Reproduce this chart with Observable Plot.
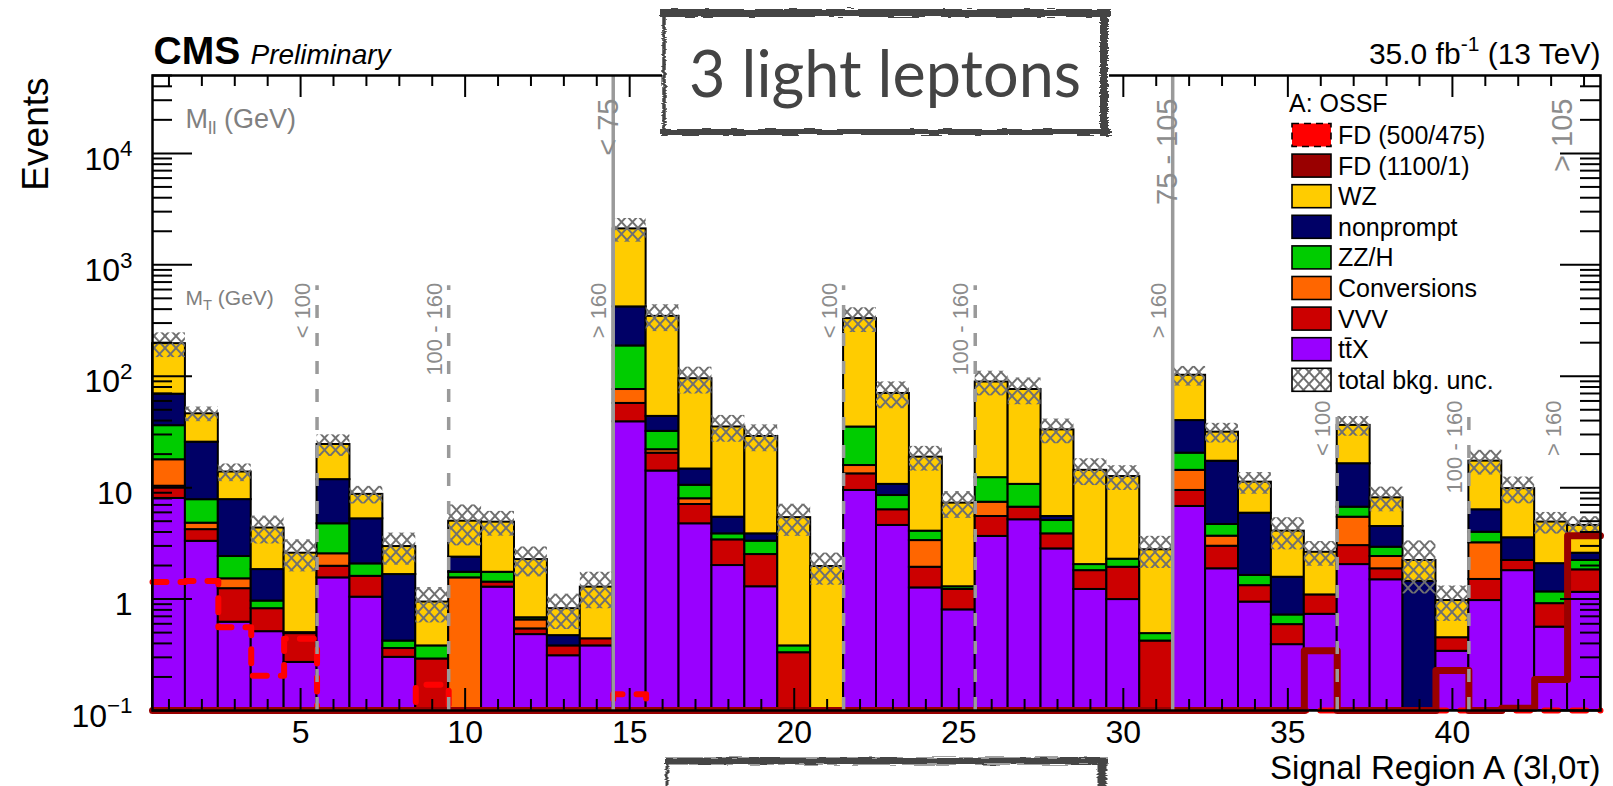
<!DOCTYPE html>
<html><head><meta charset="utf-8">
<script src="https://cdn.jsdelivr.net/npm/d3@7"></script>
<script src="https://cdn.jsdelivr.net/npm/@observablehq/plot@0.6"></script>
<style>
html,body{margin:0;padding:0;background:#fff;}
#chart svg{display:block;}
</style></head><body><div id="chart"></div>
<script>
// ---------------- data ----------------
const bins = [1,2,3,4,5,6,7,8,9,10,11,12,13,14,15,16,17,18,19,20,21,22,23,24,25,26,27,28,29,30,31,32,33,34,35,36,37,38,39,40,41,42,43,44];
// stacked backgrounds (bottom -> top)
const ttX       = [8.0,3.3,0.62,0.51,0.27,1.55,1.04,0.30,0,0,1.28,0.48,0.31,0.38,39,14.1,4.74,2.0,1.29,0,0,9.44,4.58,1.26,0.80,3.65,5.15,2.82,1.22,0.99,0,6.78,1.87,0.94,0.39,0.73,2.04,1.49,0,0.34,0.97,1.80,0.56,1.15];
const VVV       = [2.3,0.9,0.62,0.31,0.22,0.42,0.56,0.06,0.29,0,0.14,0.06,0.07,0.06,18,6.3,2.32,1.4,1.22,0.33,0,3.86,1.75,0.67,0.42,1.86,1.53,1.03,0.58,0.94,0.42,2.66,1.11,0.38,0.20,0.36,0.98,0.38,0,0.11,0.53,0.42,0.35,0.68];
const conversions = [7.5,0.6,0.28,0,0,0.58,0,0,0,1.55,0,0.11,0,0,19,1.5,0.89,0,0,0,0,2.5,0,1.42,0,1.89,0,0,0,0,0,4.86,0.69,0,0,0,2.41,0.54,0,0,1.7,0,0,0];
const ZZH       = [18.2,3.0,0.89,0.14,0,2.19,0.47,0.06,0.09,0.19,0.32,0.03,0,0,111,10.1,2.55,0.45,0.8,0.05,0,19.2,2.17,0.72,0.07,4.9,4.02,1.22,0.24,0.35,0.07,6.1,1.0,0.31,0.13,0,1.25,0.51,0,0,0.78,0,0.25,0.39];
const nonprompt = [33,17.8,5.4,0.88,0.01,7.06,3.18,1.24,0,0.64,0,0,0.09,0,232,11.6,4.2,1.58,0.54,0,0,0,2.2,0,0,0,0,0.44,0,0,0,19.6,12.6,4.27,0.85,0,9.72,1.56,1.44,0,2.35,1.33,0.92,0.36];
const WZ        = [127,20.4,6.0,2.5,2.08,12.6,3.45,1.30,0.56,2.62,3.16,1.58,0.35,0.84,1681,301,80.3,29.6,24.95,5.0,1.96,294,59.3,14.7,5.97,76.4,65.3,27.5,12.26,10.3,2.28,62,14.2,5.3,2.5,1.54,19.8,3.62,0.78,0.52,10.97,6.25,2.83,2.0];
// relative total background uncertainty
const unc = [0.25,0.15,0.18,0.28,0.32,0.22,0.18,0.32,0.35,0.40,0.25,0.30,0.35,0.36,0.24,0.27,0.27,0.27,0.27,0.32,0.32,0.25,0.27,0.25,0.27,0.25,0.27,0.25,0.27,0.25,0.32,0.20,0.20,0.22,0.32,0.25,0.20,0.25,0.50,0.35,0.25,0.27,0.22,0.20];
// signals (0 = below axis minimum)
const sigFD500 = [1.42,1.45,0.56,0.205,0.44,0,0,0,0.17,0,0,0,0,0,0.14,0,0,0,0,0,0,0,0,0,0,0,0,0,0,0,0,0,0,0,0,0,0,0,0,0,0,0,0,0];
const sigFD1100 = [0,0,0,0,0,0,0,0,0,0,0,0,0,0,0,0,0,0,0,0,0,0,0,0,0,0,0,0,0,0,0,0,0,0,0,0.344,0,0,0,0.228,0,0.105,0.19,3.7];

const seriesNames  = ["ttX","VVV","Conversions","ZZ/H","nonprompt","WZ"];
const seriesLabels = ["tt\u0304X","VVV","Conversions","ZZ/H","nonprompt","WZ"];
const seriesColors = ["#9900ff","#cc0000","#ff6600","#00cc00","#000066","#ffcc00"];
const sigNames  = ["FD (500/475)","FD (1100/1)"];
const sigColors = ["#ff0000","#990000"];

const xMajorTicks = [5,10,15,20,25,30,35,40];
const yMajorTicks = [0.1,1,10,100,1000,10000];
const yTickLabels = ["10^{\u22121}","1","10","10^{2}","10^{3}","10^{4}"];

const mllLines = [14.5,31.5];
const mllLabels = ["< 75","75 - 105","> 105"];
const mllLabelX = [14.5,31.5,43.5];
const mtLines = [5.5,9.5,21.5,25.5,36.5,40.5];
const mtLineTop = [650,650,650,650,57,57];
const mtLabels = ["< 100","100 - 160","> 160","< 100","100 - 160","> 160","< 100","100 - 160","> 160"];
const mtLabelX = [5.5,9.5,14.5,21.5,25.5,31.5,36.5,40.5,43.5];
const mtLabelTop = [650,650,650,650,650,650,57,57,57];

// ---------------- build ----------------
const W = 1613, H = 786, mL = 152, mR = 13, mT = 75, mB = 76;
const fw = W - mL - mR, fh = H - mT - mB;
const yMin = 0.1, yMax = 5e4;

const stack = [ttX, VVV, conversions, ZZH, nonprompt, WZ];
const segments = [], totals = [];
bins.forEach((b, i) => {
  let cum = 0;
  stack.forEach((arr, k) => {
    const v = arr[i];
    if (v > 0) segments.push({bin: b, series: seriesNames[k], y1: cum, y2: cum + v});
    cum += v;
  });
  totals.push({bin: b, lo: cum * (1 - unc[i]), hi: cum * (1 + unc[i])});
});
const segs = segments.filter(d => d.y2 > yMin);

function steps(vals) {
  const pts = bins.map((b, i) => ({x: b - 0.5, y: Math.max(vals[i], yMin)}));
  pts.push({x: bins[bins.length - 1] + 0.5, y: Math.max(vals[vals.length - 1], yMin)});
  return pts;
}

const yAll = d3.scaleLog().domain([yMin, yMax]).ticks();
const yMinor = yAll.filter(v => Math.abs(Math.log10(v) - Math.round(Math.log10(v))) > 1e-6 && v <= yMax);
const xMinor = bins.filter(b => !xMajorTicks.includes(b));

const mtLineData = mtLines.map((x, i) => ({x, top: mtLineTop[i]}));
const mtLabelData = mtLabels.map((t, i) => ({t, x: mtLabelX[i], top: mtLabelTop[i]}));
const mllLabelData = mllLabels.map((t, i) => ({t, x: mllLabelX[i]}));

const gray = "#9a9a9a";
const plot = Plot.plot({
  width: W, height: H,
  marginLeft: mL, marginRight: mR, marginTop: mT, marginBottom: mB,
  style: {fontFamily: "'Liberation Sans', Arial, Helvetica, sans-serif", background: "white", overflow: "visible"},
  x: {domain: [0.5, 44.5]},
  y: {type: "log", domain: [yMin, yMax], clamp: true},
  color: {domain: seriesNames, range: seriesColors},
  marks: [
    Plot.rect(segs, {x1: d => d.bin - 0.5, x2: d => d.bin + 0.5, y1: d => Math.max(d.y1, yMin), y2: "y2", fill: "series", stroke: "black", strokeWidth: 2}),
    Plot.rect(totals, {x1: d => d.bin - 0.5, x2: d => d.bin + 0.5, y1: "lo", y2: "hi", fill: "url(#hatch)"}),
    Plot.line(steps(sigFD500), {x: "x", y: "y", curve: "step-after", stroke: sigColors[0], strokeWidth: 6, strokeDasharray: "14,14"}),
    Plot.line(steps(sigFD1100), {x: "x", y: "y", curve: "step-after", stroke: sigColors[1], strokeWidth: 7}),
    Plot.ruleX(mtLineData, {x: "x", y1: yMin, y2: "top", stroke: gray, strokeWidth: 3.5, strokeDasharray: "13,15"}),
    Plot.ruleX(mllLines, {stroke: gray, strokeWidth: 3.5}),
    Plot.text(mllLabelData, {x: "x", text: "t", frameAnchor: "top", rotate: -90, textAnchor: "end", dx: -16, dy: 23, fill: "#8c8c8c", fontSize: 29}),
    Plot.text(mtLabelData, {x: "x", y: "top", text: "t", rotate: -90, textAnchor: "end", dx: -14, dy: -3, fill: "#8c8c8c", fontSize: 22}),
    Plot.text(["M_{ll} (GeV)"], {text: d => d, frameAnchor: "top-left", dx: 33, dy: 52, textAnchor: "start", lineAnchor: "bottom", fill: "#808080", fontSize: 27}),
    Plot.text(["M_{T} (GeV)"], {text: d => d, frameAnchor: "top-left", dx: 33, dy: 229, textAnchor: "start", lineAnchor: "bottom", fill: "#808080", fontSize: 21}),
    Plot.frame({stroke: "black", strokeWidth: 2.5}),
    Plot.ruleY(yMajorTicks, {insetRight: fw - 40, stroke: "black", strokeWidth: 2}),
    Plot.ruleY(yMajorTicks, {insetLeft: fw - 40, stroke: "black", strokeWidth: 2}),
    Plot.ruleY(yMinor, {insetRight: fw - 20, stroke: "black", strokeWidth: 2}),
    Plot.ruleY(yMinor, {insetLeft: fw - 20, stroke: "black", strokeWidth: 2}),
    Plot.ruleX(xMajorTicks, {insetBottom: fh - 22, stroke: "black", strokeWidth: 2}),
    Plot.ruleX(xMajorTicks, {insetTop: fh - 22, stroke: "black", strokeWidth: 2}),
    Plot.ruleX(xMinor, {insetBottom: fh - 11, stroke: "black", strokeWidth: 2}),
    Plot.ruleX(xMinor, {insetTop: fh - 11, stroke: "black", strokeWidth: 2}),
    Plot.axisX({ticks: xMajorTicks, tickSize: 0, tickPadding: 10, fontSize: 32, label: null, tickFormat: d => String(d), fill: "black"}),
    Plot.axisY({ticks: yMajorTicks, tickSize: 0, tickPadding: 20, fontSize: 32, label: null, dy: 6, fill: "black",
      tickFormat: d => yTickLabels[yMajorTicks.findIndex(v => Math.abs(v - d) < 1e-9 * Math.max(1, d))]}),
    Plot.text(["Events"], {text: d => d, frameAnchor: "top-left", rotate: -90, textAnchor: "end", lineAnchor: "bottom", dx: -105, dy: 2, fontSize: 37, fill: "black"}),
    Plot.text(["Signal Region A (3l,0\u03c4)"], {text: d => d, frameAnchor: "bottom-right", textAnchor: "end", lineAnchor: "bottom", dy: 68, fontSize: 33, fill: "black"}),
    Plot.text(["CMS"], {text: d => d, frameAnchor: "top-left", textAnchor: "start", lineAnchor: "bottom", dx: 1, dy: -12, fontSize: 39, fontWeight: "bold", fill: "black"}),
    Plot.text(["Preliminary"], {text: d => d, frameAnchor: "top-left", textAnchor: "start", lineAnchor: "bottom", dx: 98, dy: -12, fontSize: 28, fontStyle: "italic", fill: "black"}),
    Plot.text(["35.0 fb^{-1} (13 TeV)"], {text: d => d, frameAnchor: "top-right", textAnchor: "end", lineAnchor: "bottom", dy: -12, fontSize: 30, fill: "black"})
  ]
});
document.getElementById("chart").appendChild(plot);

const svg = d3.select(plot);
const defs = svg.insert("defs", ":first-child");
const pat = defs.append("pattern").attr("id", "hatch").attr("patternUnits", "userSpaceOnUse").attr("width", 11).attr("height", 12);
pat.append("path").attr("d", "M-1,-1.1L12,13.1M12,-1.1L-1,13.1").attr("stroke", "#707070").attr("stroke-width", 1.9).attr("fill", "none");
const filt = defs.append("filter").attr("id", "rough").attr("x", "-5%").attr("y", "-30%").attr("width", "110%").attr("height", "160%");
filt.append("feTurbulence").attr("type", "fractalNoise").attr("baseFrequency", "0.05 0.9").attr("numOctaves", 2).attr("seed", 4).attr("result", "n");
filt.append("feDisplacementMap").attr("in", "SourceGraphic").attr("in2", "n").attr("scale", 5).attr("xChannelSelector", "R").attr("yChannelSelector", "G");

// rich text (super/subscripts)
const NS = "http://www.w3.org/2000/svg";
function richify(root) {
  root.querySelectorAll("text").forEach(t => {
    const s = t.textContent;
    if (!/[_^]\{/.test(s)) return;
    const fs = parseFloat(getComputedStyle(t).fontSize) || 16;
    const inner = t.querySelector("tspan");
    const baseDy = inner ? inner.getAttribute("dy") : null;
    const baseX = inner ? inner.getAttribute("x") : null;
    while (t.firstChild) t.removeChild(t.firstChild);
    let shift = 0, first = true;
    const add = (str, kind) => {
      if (!str) return;
      const ts = document.createElementNS(NS, "tspan");
      if (first && baseX != null) ts.setAttribute("x", baseX);
      const target = kind === "^" ? -0.42 * fs : kind === "_" ? 0.25 * fs : 0;
      if (first && baseDy != null) ts.setAttribute("dy", baseDy);
      else if (target !== shift) ts.setAttribute("dy", target - shift);
      shift = target;
      if (kind) ts.setAttribute("font-size", (0.7 * fs).toFixed(1));
      ts.textContent = str;
      t.appendChild(ts);
      first = false;
    };
    const re = /([_^])\{([^}]*)\}/g;
    let last = 0, m;
    while ((m = re.exec(s))) {
      add(s.slice(last, m.index), null);
      add(m[2], m[1]);
      last = re.lastIndex;
    }
    add(s.slice(last), null);
  });
}
richify(plot);

// legend
const lg = svg.append("g").attr("font-family", "'Liberation Sans', Arial, sans-serif").attr("font-size", 25)
  .attr("text-anchor", "start").attr("fill", "black");
lg.append("text").attr("x", 1289).attr("y", 112).attr("text-anchor", "start").text("A: OSSF");
const legendItems = [
  {label: sigNames[0], fill: sigColors[0], dash: true},
  {label: sigNames[1], fill: sigColors[1]},
  ...seriesLabels.map((l, i) => ({label: l, fill: seriesColors[i]})).reverse(),
  {label: "total bkg. unc.", fill: "url(#hatch)", hatch: true}
];
legendItems.forEach((it, i) => {
  const cy = 135 + i * 30.6;
  if (it.hatch) lg.append("rect").attr("x", 1292).attr("y", cy - 11.5).attr("width", 39).attr("height", 23).attr("fill", "white");
  lg.append("rect").attr("x", 1292).attr("y", cy - 11.5).attr("width", 39).attr("height", 23)
    .attr("fill", it.fill).attr("stroke", "black").attr("stroke-width", 1.6)
    .attr("stroke-dasharray", it.dash ? "7,5" : null);
  lg.append("text").attr("x", 1338).attr("y", cy + 9).attr("text-anchor", "start").attr("fill", "black").text(it.label);
});

// title box "3 light leptons"
const box = svg.append("g");
box.append("rect").attr("x", 662).attr("y", 9).attr("width", 447).attr("height", 126).attr("fill", "white");
const bd = box.append("g").attr("stroke", "#444").attr("fill", "none").attr("filter", "url(#rough)");
bd.append("line").attr("x1", 660).attr("y1", 13).attr("x2", 1111).attr("y2", 13).attr("stroke-width", 8);
bd.append("line").attr("x1", 1104).attr("y1", 9).attr("x2", 1104).attr("y2", 136).attr("stroke-width", 8);
bd.append("line").attr("x1", 660).attr("y1", 132).attr("x2", 1111).attr("y2", 132).attr("stroke-width", 6);
bd.append("line").attr("x1", 664).attr("y1", 10).attr("x2", 664).attr("y2", 136).attr("stroke-width", 3.5);
box.append("text").attr("x", 885).attr("y", 97).attr("text-anchor", "middle")
  .attr("font-family", "Lato, 'Open Sans', sans-serif").attr("font-size", 66).attr("fill", "#444")
  .attr("textLength", 392).attr("lengthAdjust", "spacingAndGlyphs").text("3 light leptons");

// empty box at the bottom
const box2 = svg.append("g");
box2.append("rect").attr("x", 666).attr("y", 759).attr("width", 440).attr("height", 30).attr("fill", "white");
const bd2 = box2.append("g").attr("stroke", "#444").attr("fill", "none").attr("filter", "url(#rough)");
bd2.append("line").attr("x1", 665).attr("y1", 761).attr("x2", 1108).attr("y2", 761).attr("stroke-width", 7);
bd2.append("line").attr("x1", 1102).attr("y1", 758).attr("x2", 1102).attr("y2", 790).attr("stroke-width", 9);
bd2.append("line").attr("x1", 667).attr("y1", 760).attr("x2", 667).attr("y2", 790).attr("stroke-width", 3);
</script></body></html>
